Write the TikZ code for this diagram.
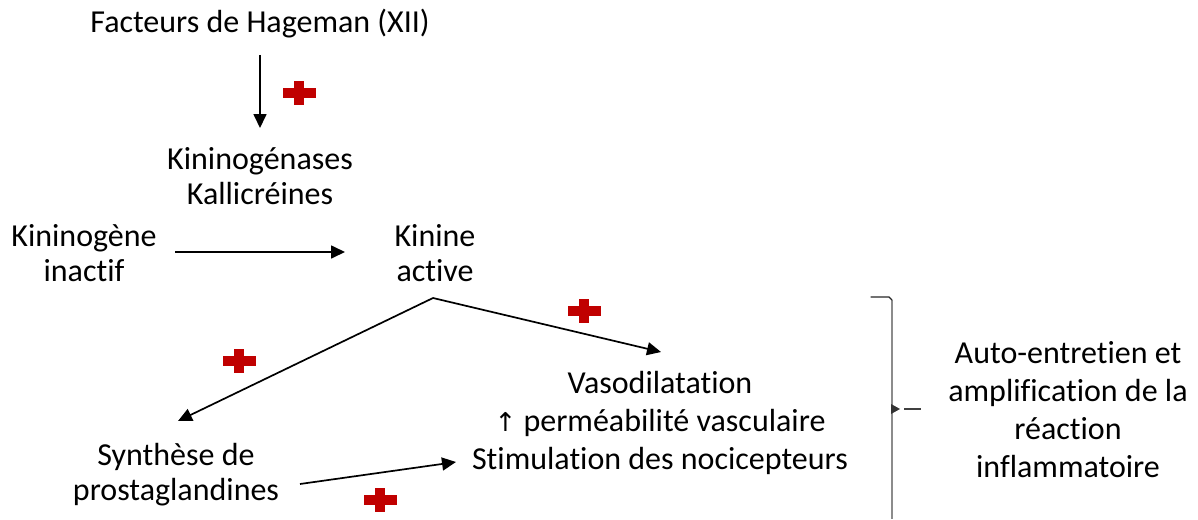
\documentclass[tikz,border=0pt]{standalone}
\usepackage{fontspec}
\setmainfont[Ligatures={NoCommon}]{Carlito}
\newfontfamily\symfont{DejaVu Sans}
\usetikzlibrary{arrows.meta}
\definecolor{plusred}{HTML}{C00000}
\definecolor{bracegray}{HTML}{8C8C8C}
\begin{document}
\begin{tikzpicture}[x=1pt,y=-1pt,
  lbl/.style={align=center, inner sep=0pt, font=\fontsize{32}{35}\selectfont},
  lblw/.style={align=center, inner sep=0pt, font=\fontsize{32}{38}\selectfont},
  conn/.style={line width=1.7pt, -{Triangle[length=14pt,width=13pt]}},
  plus/.pic={
    \fill[plusred] (-16.5,-4.8) rectangle (16.5,4.8);
    \fill[plusred] (-5,-12) rectangle (5,12);
  }]
\useasboundingbox (0,0) rectangle (1198,519);

% labels
\node[lbl] (hageman) at (260,24) {Facteurs de Hageman (XII)};
\node[lbl] (kallik) at (260,176) {Kininogénases\\Kallicréines};
\node[lbl] (kinogene) at (84,253) {Kininogène\\inactif};
\node[lbl] (kinine) at (435,253) {Kinine\\active};
\node[lblw] (effets) at (660,423) {Vasodilatation\\{\symfont\fontsize{26}{38}\selectfont ↑} perméabilité vasculaire\\Stimulation des nocicepteurs};
\node[lbl] (prosta) at (176,475) {Synthèse de\\prostaglandines};
\node[lblw] (auto) at (1068,410) {Auto-entretien et\\amplification de la\\réaction\\inflammatoire};

% connectors
\coordinate (top1) at (260,55);
\coordinate (bot1) at (260,128);
\draw[conn] (top1) -- (bot1);
\coordinate (kgR) at (175,252);
\coordinate (knL) at (345,252);
\draw[conn] (kgR) -- (knL);
\coordinate (split) at (433,298);
\coordinate (toProsta) at (178,421);
\coordinate (toEffets) at (661,352);
\draw[conn] (split) -- (toProsta);
\draw[conn] (split) -- (toEffets);
\coordinate (prR) at (300,484);
\coordinate (efL) at (456,462);
\draw[conn] (prR) -- (efL);

% activation marks
\pic at (299,93) {plus};
\pic at (584,311) {plus};
\pic at (239,361) {plus};
\pic at (380,500) {plus};

% brace
\coordinate (brTop) at (871,297);
\coordinate (brMid) at (892,409);
\coordinate (brBot) at (892,519);
\draw[bracegray, line width=2.8pt] (892,300) -- (brMid) -- (brBot);
\draw[black!85, line width=1.2pt, line cap=round] (brTop) -- (889,297) -- (892,300);
\fill[black!80] (891,404) -- (900,409) -- (891,414) -- cycle;
\coordinate (dashL) at (904,409);
\coordinate (dashR) at (921,409);
\draw[black!75, line width=1.3pt] (dashL) -- (dashR);
\end{tikzpicture}
\end{document}
